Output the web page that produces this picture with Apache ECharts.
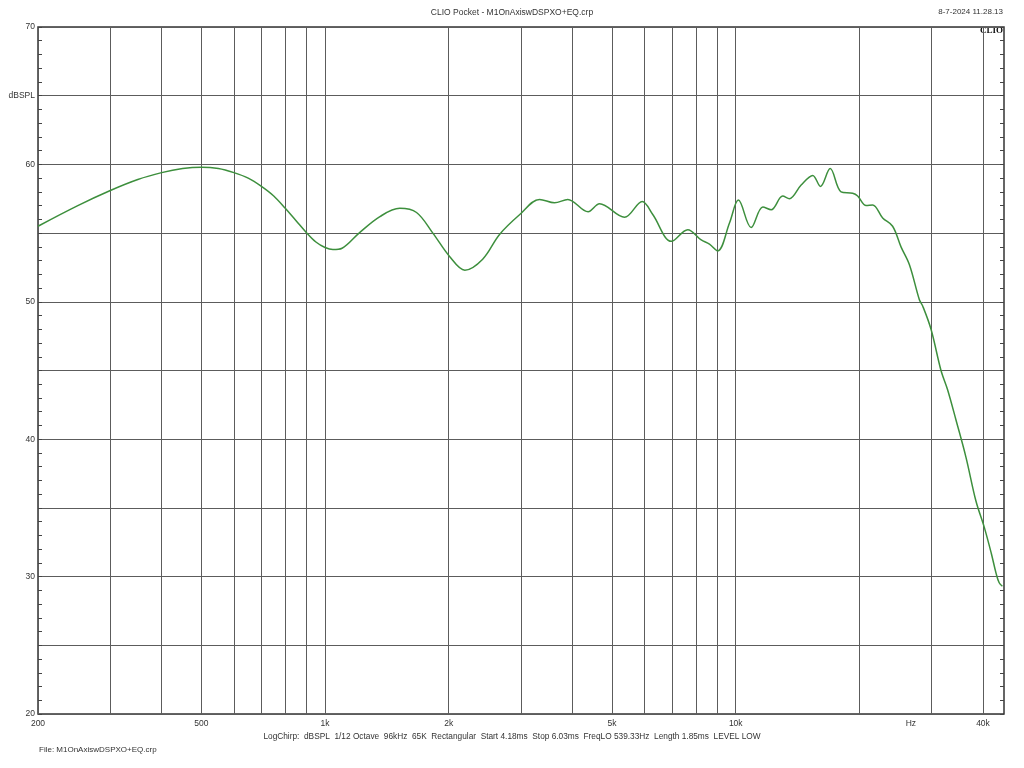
<!DOCTYPE html>
<html>
<head>
<meta charset="utf-8">
<script src="https://cdn.jsdelivr.net/npm/echarts@6/dist/echarts.min.js"></script>
<style>html,body{margin:0;padding:0;background:#fff}#c{width:1024px;height:768px}</style>
</head>
<body>
<div id="c"></div>
<script>
const freqs = [200, 250, 300, 350, 400, 450, 500, 550, 600, 650, 700, 750, 800, 850, 900, 950, 1000, 1045, 1100, 1210, 1360, 1520, 1670, 1830, 2010, 2190, 2420, 2660, 2980, 3330, 3620, 3900, 4370, 4660, 5360, 5920, 6280, 6970, 7640, 8240, 8630, 9040, 9660, 10150, 10900, 11640, 12200, 13010, 13510, 14430, 15400, 16080, 16980, 18050, 19260, 19810, 20770, 21550, 22790, 24100, 25260, 26480, 28000, 28520, 29890, 31610, 32800, 34380, 36350, 38450, 40280, 41900, 43080, 43800, 44600];
const spl = [55.5, 57.0, 58.1, 58.9, 59.4, 59.7, 59.8, 59.7, 59.4, 59.0, 58.4, 57.7, 56.8, 55.9, 55.05, 54.35, 53.95, 53.8, 53.9, 55.0, 56.2, 56.8, 56.5, 55.0, 53.3, 52.3, 53.1, 54.9, 56.35, 57.45, 57.2, 57.45, 56.55, 57.13, 56.15, 57.3, 56.35, 54.4, 55.25, 54.5, 54.2, 53.7, 55.75, 57.4, 55.4, 56.9, 56.7, 57.7, 57.5, 58.5, 59.2, 58.4, 59.7, 58.0, 57.9, 57.7, 57.0, 57.05, 56.1, 55.5, 54.0, 52.7, 50.15, 49.7, 48.0, 45.0, 43.6, 41.4, 38.7, 35.5, 33.6, 31.7, 30.2, 29.55, 29.3];
const gridFreqs = [200, 300, 400, 500, 600, 700, 800, 900, 1000, 2000, 3000, 4000, 5000, 6000, 7000, 8000, 9000, 10000, 20000, 30000, 40000];
const labelFreqs = [200, 500, 1000, 2000, 5000, 10000, 26700, 40000];
const labelTexts = ['200', '500', '1k', '2k', '5k', '10k', 'Hz', '40k'];
const yLabels = {70: '70', 65: 'dBSPL', 60: '60', 50: '50', 40: '40', 30: '30', 20: '20'};
const titleText = 'CLIO Pocket - M1OnAxiswDSPXO+EQ.crp';
const dateText = '8-7-2024 11.28.13';
const infoText = 'LogChirp:  dBSPL  1/12 Octave  96kHz  65K  Rectangular  Start 4.18ms  Stop 6.03ms  FreqLO 539.33Hz  Length 1.85ms  LEVEL LOW';
const fileText = 'File: M1OnAxiswDSPXO+EQ.crp';

const FONT = 'Liberation Sans, Arial, sans-serif';
const chart = echarts.init(document.getElementById('c'), null, {renderer: 'canvas'});
const yAxisBase = {
  type: 'value', min: 20, max: 70, interval: 5,
  axisLine: {show: false},
  axisTick: {show: true, inside: true, length: 4, lineStyle: {color: '#444'}},
  minorTick: {show: true, splitNumber: 5, length: 4, lineStyle: {color: '#444'}},
};
chart.setOption({
  animation: false,
  backgroundColor: '#fff',
  grid: {left: 38, right: 20, top: 27, bottom: 54, show: true, borderColor: '#333', borderWidth: 1.5, backgroundColor: 'transparent'},
  xAxis: {
    type: 'log', logBase: 10, min: 200, max: 45000,
    axisLine: {show: false},
    axisTick: {show: false, customValues: gridFreqs},
    axisLabel: {
      customValues: labelFreqs, fontFamily: FONT, fontSize: 8.5, color: '#333', margin: 5,
      formatter: v => { const i = labelFreqs.findIndex(f => Math.abs(f - v) / f < 1e-6); return i >= 0 ? labelTexts[i] : ''; }
    },
    splitLine: {show: true, lineStyle: {color: '#5c5c5c', width: 1}}
  },
  yAxis: [
    Object.assign({}, yAxisBase, {
      position: 'left',
      axisLabel: {fontFamily: FONT, fontSize: 8.5, color: '#333', margin: 3,
        formatter: v => (yLabels[v] !== undefined ? yLabels[v] : '')},
      splitLine: {show: true, lineStyle: {color: '#5c5c5c', width: 1}}
    }),
    Object.assign({}, yAxisBase, {
      position: 'right',
      axisLabel: {show: false},
      splitLine: {show: false}
    })
  ],
  series: [{
    type: 'line', data: freqs.map((f, i) => [f, spl[i]]),
    showSymbol: false, smooth: 0.35,
    lineStyle: {color: '#3d8f3d', width: 1.5},
    silent: true
  }],
  graphic: [
    {type: 'text', left: 'center', top: 8, style: {text: titleText, font: '8.5px ' + FONT, fill: '#333'}},
    {type: 'text', right: 21, top: 8, style: {text: dateText, font: '8px ' + FONT, fill: '#333'}},
    {type: 'text', right: 21, top: 26, style: {text: 'CLIO', font: 'bold 9px "Liberation Serif", "DejaVu Serif", serif', fill: '#111'}},
    {type: 'text', left: 'center', top: 733, style: {text: infoText, font: '8.3px ' + FONT, fill: '#333'}},
    {type: 'text', left: 39, top: 746, style: {text: fileText, font: '8px ' + FONT, fill: '#333'}}
  ]
});
</script>
</body>
</html>
